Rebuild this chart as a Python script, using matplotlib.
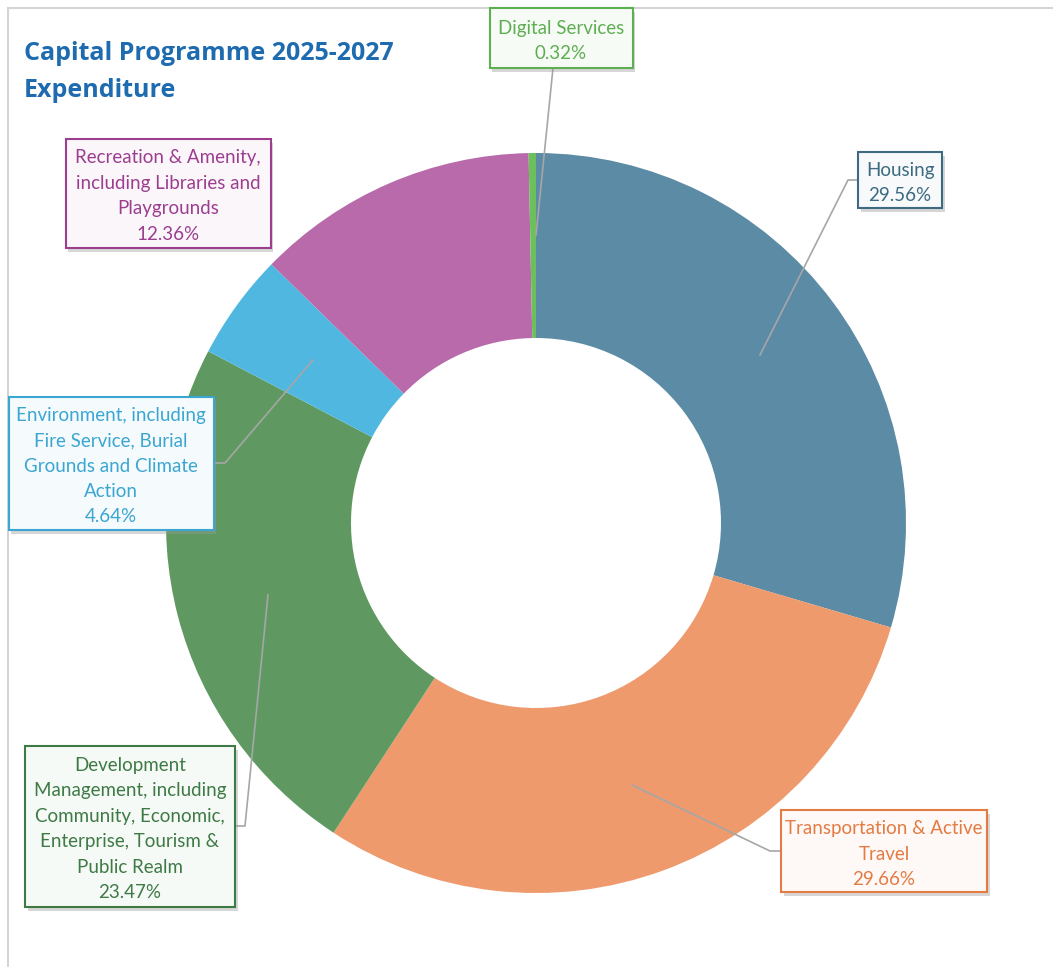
import matplotlib.pyplot as plt
import matplotlib.patheffects as pe
from matplotlib.patches import Rectangle

categories = ["Housing", "Transportation & Active\nTravel",
              "Development\nManagement, including\nCommunity, Economic,\nEnterprise, Tourism &\nPublic Realm",
              "Environment, including\nFire Service, Burial\nGrounds and Climate\nAction",
              "Recreation & Amenity,\nincluding Libraries and\nPlaygrounds",
              "Digital Services"]
shares = [29.56, 29.66, 23.47, 4.64, 12.36, 0.32]

wedge_colors = ['#5B8BA5', '#EE9A6C', '#5F9961', '#50B8E0', '#B86AAA', '#6CC05B']
text_colors = ['#3C6A80', '#E47B43', '#3E7A45', '#3BA6D1', '#9C3E90', '#5EAE52']
box_faces = ['#F7F9FB', '#FEF9F6', '#F6FAF6', '#F5FAFC', '#FBF6FA', '#F7FBF6']

# label box centre, size and leader line (pixels, y from top)
boxes = [(900, 180, 84, 56), (884, 851, 206, 82), (130, 826, 210, 161),
         (111, 463, 205, 133), (168, 193, 205, 109), (561, 38, 143, 60)]
leaders = [[(858, 180), (848, 180), (760, 355)],
           [(781, 851), (770, 851), (632, 785)],
           [(235, 826), (245, 826), (268, 595)],
           [(213, 463), (225, 463), (313, 360)],
           None,
           [(553, 68), (536, 235)]]

W, H = 1053, 967
fig = plt.figure(figsize=(W / 100, H / 100), dpi=100)
ax = fig.add_axes([0, 0, 1, 1])

def fy(y):
    return H - y

ax.add_patch(Rectangle((8, fy(1100)), 1200, 1100 - 8, fill=False,
                       edgecolor='#D4D4D4', linewidth=1.5))

ax.pie(shares, colors=wedge_colors, startangle=90, counterclock=False,
       center=(536, fy(523)), radius=370, frame=True,
       wedgeprops=dict(width=185, edgecolor='none'))
ax.set_xlim(0, W)
ax.set_ylim(0, H)
ax.set_aspect('auto')
ax.axis('off')

for pts in leaders:
    if pts is None:
        continue
    ax.plot([p[0] for p in pts], [fy(p[1]) for p in pts],
            color='#A6A6A6', linewidth=1.2, zorder=3)

for lab, s, (cx, cy, bw, bh), tc, fc in zip(categories, shares, boxes,
                                            text_colors, box_faces):
    r = Rectangle((cx - bw / 2, fy(cy) - bh / 2), bw, bh, facecolor=fc,
                  edgecolor=tc, linewidth=1.5, zorder=4)
    r.set_path_effects([pe.SimplePatchShadow(offset=(2, -3), shadow_rgbFace='#999999', alpha=0.4),
                        pe.Normal()])
    ax.add_patch(r)
    ax.text(cx, fy(cy) - 3, f"{lab}\n{s:.2f}%", ha='center', va='center',
            color=tc, fontsize=13.5, family='Lato', linespacing=1.6, zorder=5)

fig.text(24 / W, 1 - 72 / H, "Capital Programme 2025-2027\nExpenditure",
         ha='left', va='center', color='#1F6BB0', fontsize=18,
         fontweight='bold', family='Open Sans', linespacing=1.65)

fig.savefig('out.png', dpi=100)
